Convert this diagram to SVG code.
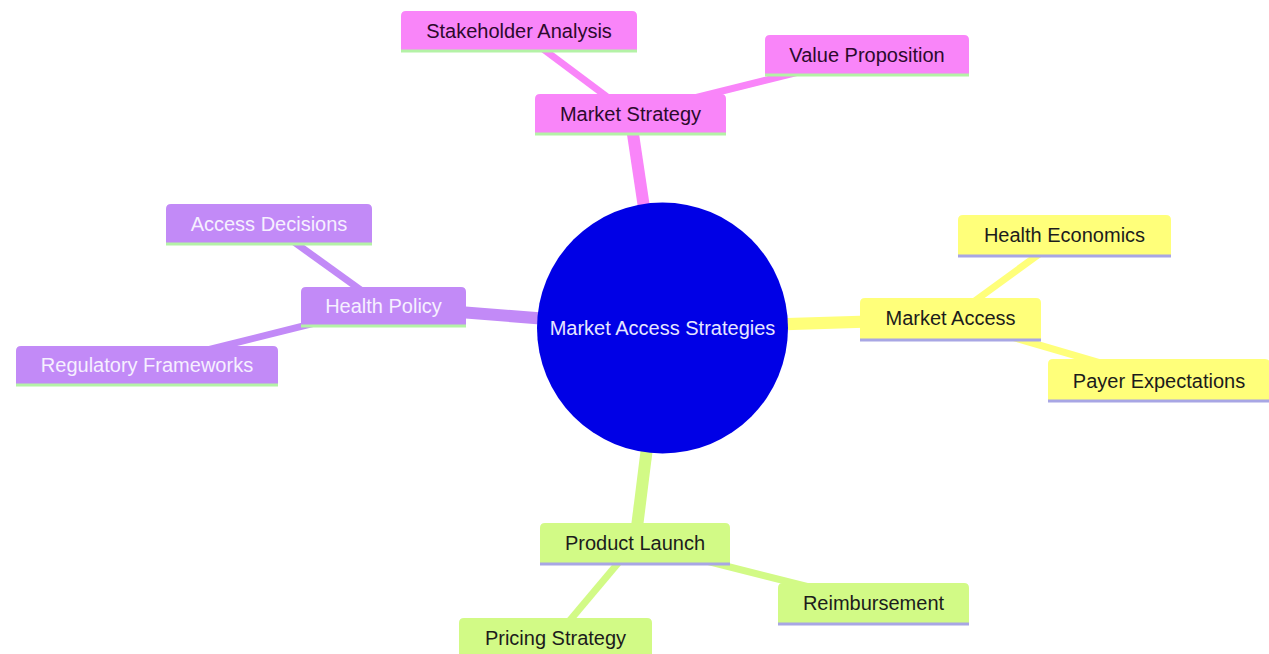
<svg xmlns="http://www.w3.org/2000/svg" width="1269" height="654" viewBox="0 0 1269 654">
<style>
text{font-family:"Liberation Sans",Arial,sans-serif;font-size:20px;text-anchor:middle}
.e0{stroke-width:12;stroke-linecap:butt;fill:none}
.e1{stroke-width:7;stroke-linecap:butt;fill:none}
.pink{fill:#f985f9}
.purp{fill:#c28af7}
.yel{fill:#ffff7a}
.grn{fill:#d2fa86}
.spk{stroke:#f985f9}
.spu{stroke:#c28af7}
.sye{stroke:#ffff7a}
.sgr{stroke:#d2fa86}
.lg{stroke:#b4f2a6;stroke-width:3}
.ll{stroke:#a8a6e4;stroke-width:3}
.tpk{fill:#2c0a2c}
.tpu{fill:#f6f0ff}
.tdk{fill:#1c1c1c}
</style>
<g id="connectors">
<line class="e0 spk" x1="662" y1="328" x2="630" y2="114"/>
<line class="e0 spu" x1="662" y1="328" x2="383" y2="306"/>
<line class="e0 sye" x1="662" y1="328" x2="950" y2="319"/>
<line class="e0 sgr" x1="662" y1="328" x2="635" y2="543"/>
<line class="e1 spk" x1="630" y1="114" x2="519" y2="31"/>
<line class="e1 spk" x1="630" y1="114" x2="867" y2="55"/>
<line class="e1 spu" x1="383" y1="306" x2="269" y2="224"/>
<line class="e1 spu" x1="383" y1="306" x2="147" y2="365"/>
<line class="e1 sye" x1="950" y1="319" x2="1064" y2="236"/>
<line class="e1 sye" x1="950" y1="319" x2="1159" y2="380"/>
<line class="e1 sgr" x1="635" y1="543" x2="873" y2="603"/>
<line class="e1 sgr" x1="635" y1="543" x2="555" y2="638"/>
</g>
<g id="root">
<circle cx="662.5" cy="328" r="125.5" fill="#0000e6"/>
<text x="662.5" y="335" fill="#e6e6ff">Market Access Strategies</text>
</g>
<g id="market-strategy">
<path class="pink" d="M535 133 V99 q0,-5 5,-5 H721 q5,0 5,5 V133 Z"/>
<line class="lg" x1="535" y1="134" x2="726" y2="134"/>
<text class="tpk" x="630.5" y="121">Market Strategy</text>
</g>
<g id="stakeholder-analysis">
<path class="pink" d="M401 50 V16 q0,-5 5,-5 H632 q5,0 5,5 V50 Z"/>
<line class="lg" x1="401" y1="51" x2="637" y2="51"/>
<text class="tpk" x="519" y="38">Stakeholder Analysis</text>
</g>
<g id="value-proposition">
<path class="pink" d="M765 74 V40 q0,-5 5,-5 H964 q5,0 5,5 V74 Z"/>
<line class="lg" x1="765" y1="75" x2="969" y2="75"/>
<text class="tpk" x="867" y="62">Value Proposition</text>
</g>
<g id="health-policy">
<path class="purp" d="M301 325 V292 q0,-5 5,-5 H461 q5,0 5,5 V325 Z"/>
<line class="lg" x1="301" y1="326" x2="466" y2="326"/>
<text class="tpu" x="383.5" y="313">Health Policy</text>
</g>
<g id="access-decisions">
<path class="purp" d="M166 243 V209 q0,-5 5,-5 H367 q5,0 5,5 V243 Z"/>
<line class="lg" x1="166" y1="244" x2="372" y2="244"/>
<text class="tpu" x="269" y="231">Access Decisions</text>
</g>
<g id="regulatory-frameworks">
<path class="purp" d="M16 384 V351 q0,-5 5,-5 H273 q5,0 5,5 V384 Z"/>
<line class="lg" x1="16" y1="385" x2="278" y2="385"/>
<text class="tpu" x="147" y="372">Regulatory Frameworks</text>
</g>
<g id="market-access">
<path class="yel" d="M860 339 V303 q0,-5 5,-5 H1036 q5,0 5,5 V339 Z"/>
<line class="ll" x1="860" y1="340" x2="1041" y2="340"/>
<text class="tdk" x="950.5" y="325">Market Access</text>
</g>
<g id="health-economics">
<path class="yel" d="M958 255 V220 q0,-5 5,-5 H1166 q5,0 5,5 V255 Z"/>
<line class="ll" x1="958" y1="256" x2="1171" y2="256"/>
<text class="tdk" x="1064.5" y="242">Health Economics</text>
</g>
<g id="payer-expectations">
<path class="yel" d="M1048 400 V364 q0,-5 5,-5 H1265 q5,0 5,5 V400 Z"/>
<line class="ll" x1="1048" y1="401" x2="1270" y2="401"/>
<text class="tdk" x="1159" y="388">Payer Expectations</text>
</g>
<g id="product-launch">
<path class="grn" d="M540 563 V528 q0,-5 5,-5 H725 q5,0 5,5 V563 Z"/>
<line class="ll" x1="540" y1="564" x2="730" y2="564"/>
<text class="tdk" x="635" y="550">Product Launch</text>
</g>
<g id="reimbursement">
<path class="grn" d="M778 623 V588 q0,-5 5,-5 H964 q5,0 5,5 V623 Z"/>
<line class="ll" x1="778" y1="624" x2="969" y2="624"/>
<text class="tdk" x="873.5" y="610">Reimbursement</text>
</g>
<g id="pricing-strategy">
<path class="grn" d="M459 658 V623 q0,-5 5,-5 H647 q5,0 5,5 V658 Z"/>
<line class="ll" x1="459" y1="659" x2="652" y2="659"/>
<text class="tdk" x="555.5" y="645">Pricing Strategy</text>
</g>
</svg>
